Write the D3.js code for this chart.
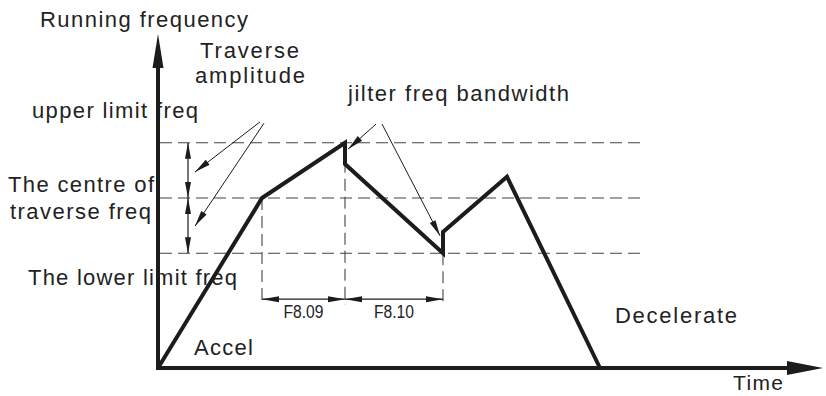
<!DOCTYPE html>
<html><head><meta charset="utf-8">
<script src="https://cdn.jsdelivr.net/npm/d3@7"></script>
<style>html,body{margin:0;padding:0;background:#fff}svg{display:block}</style>
</head><body>
<script>
// ---- data (time units, frequency units) ----
const waveTime = [0, 10.4, 18.7, 18.7, 28.5, 28.5, 34.9, 44.2];
const waveFreq = [0, 40, 53, 48, 27, 32, 45, 0];
const levelNames = ["upper", "centre", "lower"];
const levelFreq = [53, 40, 27];
const markTime = [10.4, 18.7, 28.5];
const markLabels = ["F8.09", "F8.10"];
const ampArrowTime = 3.0;
const dimFreq = 16.2;
const extFreqBottom = 14.8;
const dashEndTime = 48.7;
const axisEndTime = 66.5;
const axisTopFreq = 78.6;
// pointer arrows: [t0,f0,t1,f1]
const pointers = [
  [10.2, 57.9, 3.7, 46.1],
  [10.6, 57.6, 3.7, 33.4],
  [21.8, 57.4, 19.0, 51.5],
  [22.4, 57.4, 28.2, 31.1]
];
const labels = [
  ["Running frequency", 40, 27, 208, 22],
  ["Traverse", 200, 58, 99, 22],
  ["amplitude", 195, 83, 110, 22],
  ["upper limit freq", 32, 118, 166, 22],
  ["The centre of", 8, 192, 146, 22],
  ["traverse freq", 10, 219, 141, 22],
  ["The lower limit freq", 28, 285, 209, 22],
  ["jilter freq bandwidth", 348, 101, 221, 22],
  ["Accel", 194, 355, 59, 22],
  ["Decelerate", 615, 323, 122, 22],
  ["Time", 733, 390, 50, 21]
];

const W = 826, H = 396;
const x = d3.scaleLinear().domain([0, 66]).range([158, 818]);
const y = d3.scaleLinear().domain([0, 60]).range([368, 113]);

const svg = d3.select("body").append("svg").attr("width", W).attr("height", H);
const ink = "#1c1c1c";

function arrowHead(g, x1, y1, x0, y0, len, hw, color) {
  const a = Math.atan2(y1 - y0, x1 - x0);
  const bx = x1 - len * Math.cos(a), by = y1 - len * Math.sin(a);
  const px = -Math.sin(a) * hw, py = Math.cos(a) * hw;
  g.append("path")
    .attr("d", `M${x1},${y1}L${bx + px},${by + py}L${bx - px},${by - py}Z`)
    .attr("fill", color || ink);
}

// text labels
const tg = svg.append("g").attr("font-family", "'Liberation Sans', Arial, sans-serif")
  .attr("fill", "#222");
labels.forEach(([t, lx, ly, w, fs]) => {
  tg.append("text").attr("x", lx).attr("y", ly).attr("font-size", fs)
    .attr("textLength", w).attr("lengthAdjust", "spacing").text(t);
});

// dashed horizontal levels
svg.append("g").selectAll("line").data(levelFreq).join("line")
  .attr("x1", x(0) + 2).attr("x2", x(dashEndTime))
  .attr("y1", d => y(d)).attr("y2", d => y(d))
  .attr("stroke", "#444").attr("stroke-width", 1.2).attr("stroke-dasharray", "12,6");

// vertical extension lines
const extTop = [40, 53, 27];
svg.append("g").selectAll("line").data(markTime).join("line")
  .attr("x1", d => x(d)).attr("x2", d => x(d))
  .attr("y1", (d, i) => y(extTop[i])).attr("y2", y(extFreqBottom))
  .attr("stroke", "#444").attr("stroke-width", 1.1).attr("stroke-dasharray", "12,6");

// dimension arrows
const dg = svg.append("g");
for (let i = 0; i < markTime.length - 1; i++) {
  const xa = x(markTime[i]), xb = x(markTime[i + 1]), yy = y(dimFreq);
  dg.append("line").attr("x1", xa).attr("x2", xb).attr("y1", yy).attr("y2", yy)
    .attr("stroke", ink).attr("stroke-width", 1.2);
  arrowHead(dg, xa, yy, xb, yy, 17, 3);
  arrowHead(dg, xb, yy, xa, yy, 17, 3);
  dg.append("text").attr("x", (xa + xb) / 2).attr("y", 318)
    .attr("text-anchor", "middle")
    .attr("font-family", "'Liberation Sans Narrow', 'Liberation Sans', Arial, sans-serif")
    .attr("font-size", 18).attr("fill", "#222")
    .attr("textLength", 40).attr("lengthAdjust", "spacingAndGlyphs")
    .text(markLabels[i]);
}

// amplitude double arrows
const ag = svg.append("g");
for (let i = 0; i < levelFreq.length - 1; i++) {
  const xx = x(ampArrowTime), ya = y(levelFreq[i]), yb = y(levelFreq[i + 1]);
  ag.append("line").attr("x1", xx).attr("x2", xx).attr("y1", ya).attr("y2", yb)
    .attr("stroke", ink).attr("stroke-width", 1.2);
  arrowHead(ag, xx, ya, xx, yb, 16, 3);
  arrowHead(ag, xx, yb, xx, ya, 16, 3);
}

// pointer arrows
const pg = svg.append("g");
pointers.forEach(([t0, f0, t1, f1]) => {
  const x0 = x(t0), y0 = y(f0), x1 = x(t1), y1 = y(f1);
  pg.append("line").attr("x1", x0).attr("y1", y0).attr("x2", x1).attr("y2", y1)
    .attr("stroke", ink).attr("stroke-width", 1);
  arrowHead(pg, x1, y1, x0, y0, 16, 3.2);
});

// waveform
const pts = waveTime.map((t, i) => [t, waveFreq[i]]);
svg.append("path").datum(pts)
  .attr("d", d3.line().x(d => x(d[0])).y(d => y(d[1])))
  .attr("fill", "none").attr("stroke", ink).attr("stroke-width", 4)
  .attr("stroke-linejoin", "miter");

// axes
const axg = svg.append("g");
axg.append("line").attr("x1", x(0)).attr("y1", y(0)).attr("x2", x(axisEndTime) - 20).attr("y2", y(0))
  .attr("stroke", ink).attr("stroke-width", 4);
arrowHead(axg, x(axisEndTime), y(0), x(0), y(0), 36, 7);
axg.append("line").attr("x1", x(0)).attr("y1", y(0) + 2).attr("x2", x(0)).attr("y2", y(axisTopFreq) + 20)
  .attr("stroke", ink).attr("stroke-width", 4);
arrowHead(axg, x(0), y(axisTopFreq), x(0), y(0), 34, 5.5);
</script>
</body></html>
